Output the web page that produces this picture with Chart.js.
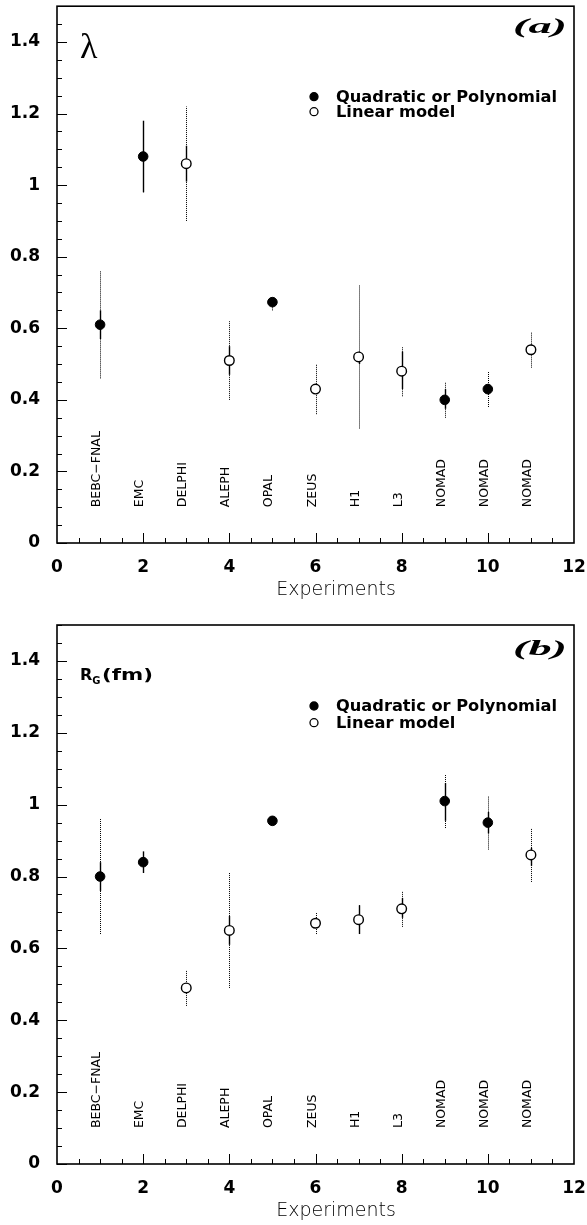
<!DOCTYPE html>
<html>
<head>
<meta charset="utf-8">
<script src="https://cdn.jsdelivr.net/npm/chart.js@4.4.1/dist/chart.umd.min.js"></script>
<style>
  body { margin: 0; background: #fff; }
  canvas { display: block; }
</style>
</head>
<body>
<canvas id="chartA" width="587" height="612"></canvas>
<canvas id="chartB" width="587" height="613"></canvas>
<script>
// experiments along the x axis
const expNumber = [1, 2, 3, 4, 5, 6, 7, 8, 9, 10, 11];
const expNames = ['BEBC\u2212FNAL', 'EMC', 'DELPHI', 'ALEPH', 'OPAL', 'ZEUS', 'H1', 'L3', 'NOMAD', 'NOMAD', 'NOMAD'];
const fitModel = ['quad', 'quad', 'lin', 'lin', 'quad', 'lin', 'lin', 'lin', 'quad', 'quad', 'lin'];

const xTickValues = [0, 2, 4, 6, 8, 10, 12];
const yTickValues = [0, 0.2, 0.4, 0.6, 0.8, 1, 1.2, 1.4];

// (a) lambda
const lambdaVal    = [0.61, 1.08, 1.06, 0.51, 0.673, 0.43, 0.52, 0.48, 0.40, 0.43, 0.54];
const lambdaStatLo = [0.57, 0.98, 1.01, 0.47, 0.665, 0.42, 0.50, 0.43, 0.375, 0.415, 0.525];
const lambdaStatHi = [0.65, 1.18, 1.11, 0.55, 0.68, 0.44, 0.535, 0.535, 0.43, 0.445, 0.555];
const lambdaSystLo = [0.46, 0.98, 0.90, 0.40, 0.65, 0.36, 0.32, 0.41, 0.35, 0.38, 0.49];
const lambdaSystHi = [0.76, 1.18, 1.22, 0.62, 0.685, 0.50, 0.72, 0.55, 0.45, 0.48, 0.59];

// (b) R_G in fm
const rgVal    = [0.80, 0.84, 0.49, 0.65, 0.955, 0.67, 0.68, 0.71, 1.01, 0.95, 0.86];
const rgStatLo = [0.76, 0.81, 0.48, 0.61, 0.95, 0.66, 0.64, 0.685, 0.955, 0.92, 0.83];
const rgStatHi = [0.84, 0.87, 0.50, 0.69, 0.96, 0.68, 0.72, 0.74, 1.06, 0.98, 0.88];
const rgSystLo = [0.64, 0.81, 0.44, 0.49, 0.95, 0.64, 0.64, 0.66, 0.935, 0.875, 0.785];
const rgSystHi = [0.96, 0.87, 0.54, 0.81, 0.96, 0.70, 0.72, 0.76, 1.085, 1.025, 0.935];

const BOLD = '"DejaVu Sans", sans-serif';
const THIN = '"DejaVu Sans", sans-serif';

function drawStretched(ctx, text, x, y, width) {
    const w = ctx.measureText(text).width;
    ctx.save();
    ctx.translate(x, y);
    ctx.scale(width / w, 1);
    ctx.fillText(text, 0, 0);
    ctx.restore();
}

function circle(ctx, x, y, r, filled) {
    ctx.beginPath();
    ctx.arc(x, y, r, 0, Math.PI * 2);
    ctx.fillStyle = filled ? '#000' : '#fff';
    ctx.fill();
    ctx.lineWidth = 1.3;
    ctx.strokeStyle = '#000';
    ctx.stroke();
}

// error bars go under the markers
function errorBarPlugin(statLo, statHi, systLo, systHi) {
    return {
        id: 'errbars',
        beforeDatasetsDraw(chart) {
            const { ctx, scales: { x, y } } = chart;
            ctx.save();
            ctx.strokeStyle = '#000';
            expNumber.forEach((n, i) => {
                const px = Math.round(x.getPixelForValue(n)) + 0.5;
                ctx.lineWidth = 1;
                ctx.setLineDash([1, 1]);
                ctx.beginPath();
                ctx.moveTo(px, y.getPixelForValue(systLo[i]));
                ctx.lineTo(px, y.getPixelForValue(systHi[i]));
                ctx.stroke();
                ctx.setLineDash([]);
                ctx.lineWidth = 1.4;
                ctx.beginPath();
                ctx.moveTo(px, y.getPixelForValue(statLo[i]));
                ctx.lineTo(px, y.getPixelForValue(statHi[i]));
                ctx.stroke();
            });
            ctx.restore();
        }
    };
}

// frame, inward ticks, experiment names, legend and labels
function decorPlugin(deco) {
    return {
        id: 'decor',
        afterDraw(chart) {
            const { ctx, chartArea: a, scales: { x, y } } = chart;
            ctx.save();
            ctx.strokeStyle = '#000';
            ctx.fillStyle = '#000';
            ctx.lineWidth = 1.6;
            ctx.strokeRect(a.left, a.top, a.right - a.left, a.bottom - a.top);

            ctx.lineWidth = 1;
            ctx.beginPath();
            for (let v = 0; v <= 1.5001; v += 0.05) {
                const py = Math.round(y.getPixelForValue(v)) + 0.5;
                const major = Math.abs(v / 0.2 - Math.round(v / 0.2)) < 1e-6;
                ctx.moveTo(a.left, py);
                ctx.lineTo(a.left + (major ? 10 : 5), py);
            }
            for (let v = 0.5; v < 12; v += 0.5) {
                const px = Math.round(x.getPixelForValue(v)) + 0.5;
                const major = v % 2 === 0;
                ctx.moveTo(px, a.bottom);
                ctx.lineTo(px, a.bottom - (major ? 10 : 5));
            }
            ctx.stroke();

            // experiment names, rotated
            ctx.font = '12.5px ' + THIN;
            ctx.textAlign = 'left';
            ctx.textBaseline = 'alphabetic';
            expNames.forEach((name, i) => {
                ctx.save();
                ctx.translate(x.getPixelForValue(expNumber[i]), y.getPixelForValue(0.1));
                ctx.rotate(-Math.PI / 2);
                ctx.fillText(name, 0, 0);
                ctx.restore();
            });

            // axis title
            ctx.font = '200 19px ' + THIN;
            ctx.textAlign = 'center';
            ctx.textBaseline = 'middle';
            ctx.fillText('Experiments', deco.titleX, deco.titleY);

            // legend
            ctx.textAlign = 'left';
            ctx.textBaseline = 'alphabetic';
            circle(ctx, 314, deco.legY[0], 4, true);
            circle(ctx, 314, deco.legY[1], 4, false);
            ctx.fillStyle = '#000';
            ctx.font = 'bold 16px ' + BOLD;
            const stretch = 221 / ctx.measureText('Quadratic or Polynomial').width;
            drawStretched(ctx, 'Quadratic or Polynomial', 336, deco.legY[0] + 5, 221);
            drawStretched(ctx, 'Linear model', 336, deco.legY[1] + 5.5,
                ctx.measureText('Linear model').width * stretch);

            // panel tag
            ctx.font = 'italic bold 20px "Liberation Serif", serif';
            drawStretched(ctx, deco.tag, 513, deco.tagY, 54);

            // quantity label
            if (deco.symbol === 'lambda') {
                ctx.font = '36px "Liberation Serif", serif';
                ctx.fillText('\u03bb', 80, deco.symY);
            } else {
                ctx.font = 'bold 16px ' + BOLD;
                ctx.fillText('R', 80, deco.symY);
                const wR = ctx.measureText('R').width;
                ctx.font = 'bold 10px ' + BOLD;
                ctx.fillText('G', 80 + wR, deco.symY + 4);
                const wG = ctx.measureText('G').width;
                ctx.font = 'bold 16px ' + BOLD;
                const sx = 80 + wR + wG + 1.5;
                drawStretched(ctx, '(fm)', sx, deco.symY, 153 - sx);
            }
            ctx.restore();
        }
    };
}

function makeChart(id, vals, statLo, statHi, systLo, systHi, layout, deco) {
    const pts = model => expNumber
        .map((n, i) => ({ x: n, y: vals[i], m: fitModel[i] }))
        .filter(p => p.m === model);

    return new Chart(document.getElementById(id), {
        type: 'scatter',
        data: {
            datasets: [
                {
                    label: 'Quadratic or Polynomial',
                    data: pts('quad'),
                    pointRadius: 4.8,
                    pointBackgroundColor: '#000',
                    pointBorderColor: '#000',
                    pointBorderWidth: 1
                },
                {
                    label: 'Linear model',
                    data: pts('lin'),
                    pointRadius: 4.8,
                    pointBackgroundColor: '#fff',
                    pointBorderColor: '#000',
                    pointBorderWidth: 1.4
                }
            ]
        },
        options: {
            responsive: false,
            animation: false,
            devicePixelRatio: 1,
            layout: { padding: { top: layout.top, right: 13, bottom: 0, left: 0 } },
            plugins: { legend: { display: false }, tooltip: { enabled: false } },
            scales: {
                x: {
                    type: 'linear',
                    min: 0,
                    max: 12,
                    grid: { display: false, drawTicks: false },
                    border: { display: false },
                    afterBuildTicks: s => { s.ticks = xTickValues.map(v => ({ value: v })); },
                    afterFit: s => {
                        s.height = layout.xHeight;
                        s.paddingLeft = 0;
                        s.paddingRight = 0;
                    },
                    ticks: {
                        padding: 14.5,
                        color: '#000',
                        maxRotation: 0,
                        font: { family: BOLD, size: 17, weight: 'bold' },
                        callback: v => String(v)
                    }
                },
                y: {
                    min: 0,
                    max: 1.5,
                    grid: { display: false, drawTicks: false },
                    border: { display: false },
                    afterBuildTicks: s => { s.ticks = yTickValues.map(v => ({ value: v })); },
                    afterFit: s => {
                        s.width = 57;
                        s.paddingTop = 0;
                        s.paddingBottom = 0;
                    },
                    ticks: {
                        padding: 17,
                        color: '#000',
                        font: { family: BOLD, size: 17, weight: 'bold' },
                        callback: v => String(Math.round(v * 10) / 10)
                    }
                }
            }
        },
        plugins: [errorBarPlugin(statLo, statHi, systLo, systHi), decorPlugin(deco)]
    });
}

makeChart('chartA', lambdaVal, lambdaStatLo, lambdaStatHi, lambdaSystLo, lambdaSystHi,
    { top: 4, xHeight: 69 },
    { symbol: 'lambda', symY: 58, tag: '(a)', tagY: 33, legY: [96.7, 111.7], titleX: 336, titleY: 590 });

makeChart('chartB', rgVal, rgStatLo, rgStatHi, rgSystLo, rgSystHi,
    { top: 13, xHeight: 61 },
    { symbol: 'rg', symY: 68, tag: '(b)', tagY: 43, legY: [94, 110.7], titleX: 336, titleY: 599.5 });
</script>
</body>
</html>
